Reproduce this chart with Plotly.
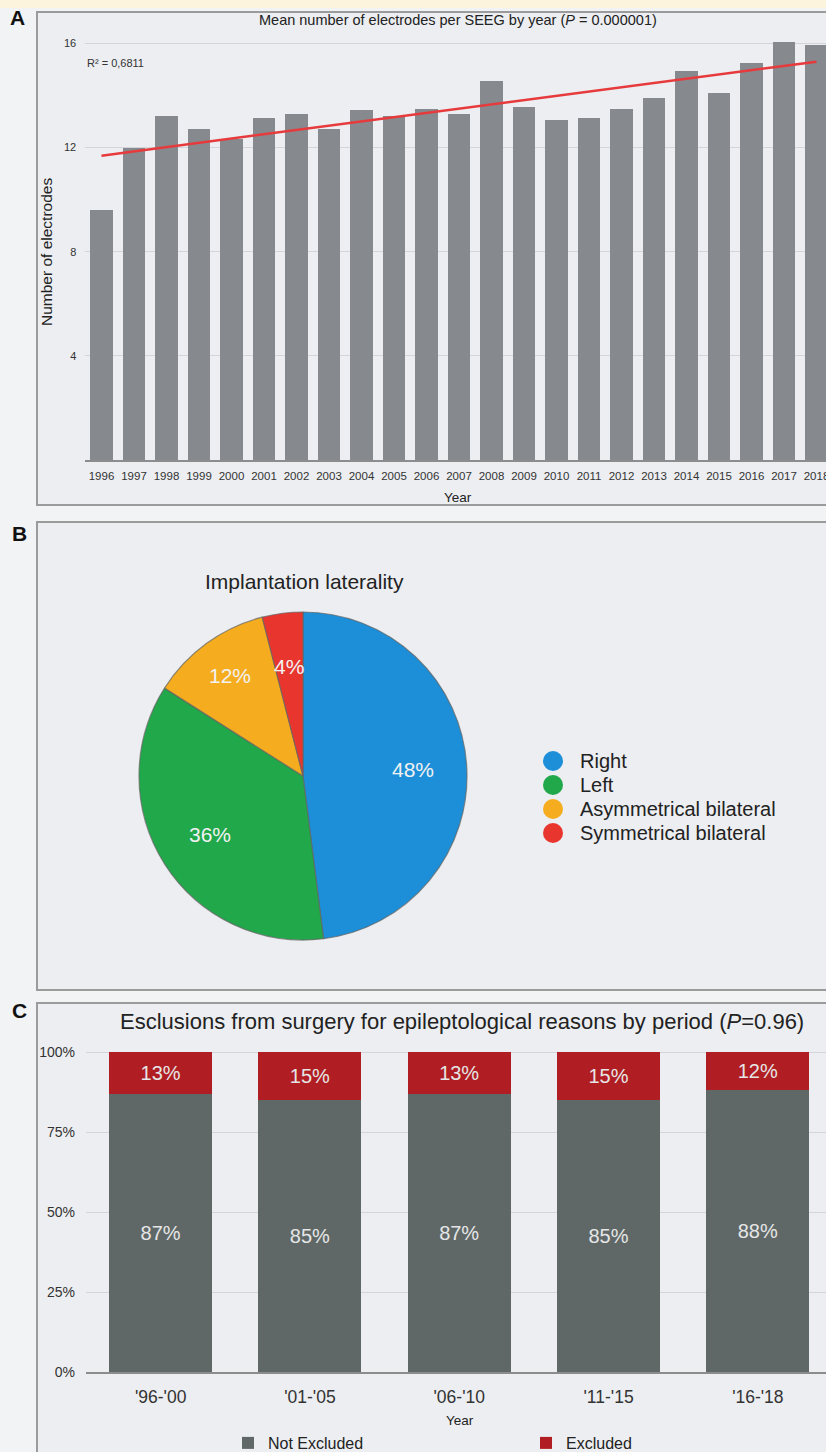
import numpy as np
import plotly.graph_objects as go

W, H = 826, 1452
def X(px): return px / W
def Y(py): return 1 - py / H

# ---------------- data ----------------
years = [str(y) for y in range(1996, 2019)]
electrodes = [9.6, 12.0, 13.2, 12.7, 12.35, 13.15, 13.3, 12.7, 13.45, 13.2, 13.5, 13.3,
              14.55, 13.55, 13.05, 13.15, 13.5, 13.9, 14.95, 14.1, 15.25, 16.05, 15.95]
r2_text = "R² = 0,6811"

lat_labels = ["Right", "Left", "Asymmetrical bilateral", "Symmetrical bilateral"]
lat_values = [48, 36, 12, 4]
lat_colors = ["#1c8fd8", "#20a84a", "#f5ad1f", "#e8362f"]

periods = ["'96-'00", "'01-'05", "'06-'10", "'11-'15", "'16-'18"]
not_excluded = [87, 85, 87, 85, 88]
excluded = [13, 15, 13, 15, 12]

FONT = "Liberation Sans, Arial, Helvetica, sans-serif"

fig = go.Figure()

# ---------------- Panel A ----------------
fig.add_trace(go.Bar(x=years, y=electrodes, marker_color="#86898d", showlegend=False,
                     xaxis="x", yaxis="y", hoverinfo="x+y"))
idx = np.arange(len(years))
slope, intercept = np.polyfit(idx, electrodes, 1)
trend = slope * idx + intercept
fig.add_trace(go.Scatter(x=years, y=trend, mode="lines", line=dict(color="#e63a3c", width=2.5),
                         showlegend=False, xaxis="x", yaxis="y"))

# ---------------- Panel B ----------------
PIE_CX, PIE_CY, PIE_R = 303, 776, 164
fig.add_trace(go.Pie(labels=lat_labels, values=lat_values, sort=False, direction="clockwise",
                     rotation=0, marker=dict(colors=lat_colors, line=dict(color="rgba(100,100,100,0.7)", width=1.2)),
                     textinfo="none",
                     domain=dict(x=[X(PIE_CX - PIE_R), X(PIE_CX + PIE_R)],
                                 y=[Y(PIE_CY + PIE_R), Y(PIE_CY - PIE_R)]),
                     showlegend=False, hoverinfo="label+percent"))

def ann(text, px, py, size, color="#222", xanchor="center", **kw):
    return dict(text=text, x=X(px), y=Y(py), xref="paper", yref="paper", showarrow=False,
                xanchor=xanchor, yanchor="middle", font=dict(size=size, color=color, family=FONT), **kw)

# slice percentage labels placed along each slice bisector
label_radius = [0.67, 0.67, 0.76, 0.67]
pie_text_ann = []
total = sum(lat_values)
cum = 0
for v, rf in zip(lat_values, label_radius):
    mid = (cum + v / 2) / total * 2 * np.pi
    cum += v
    px = PIE_CX + rf * PIE_R * np.sin(mid)
    py = PIE_CY - rf * PIE_R * np.cos(mid)
    pie_text_ann.append(ann(f"{v}%", px, py, 21, color="#f2f2f2"))

# legend for the pie (circle swatches)
LEG_X, LEG_TX, LEG_Y0, LEG_DY, LEG_R = 553, 578, 761, 24, 10
legend_shapes, legend_ann = [], []
for i, (lab, col) in enumerate(zip(lat_labels, lat_colors)):
    cy = LEG_Y0 + i * LEG_DY
    legend_shapes.append(dict(type="circle", xref="paper", yref="paper",
                              x0=X(LEG_X - LEG_R), x1=X(LEG_X + LEG_R), y0=Y(cy + LEG_R), y1=Y(cy - LEG_R),
                              fillcolor=col, line=dict(width=0)))
    legend_ann.append(ann(lab, LEG_TX, cy, 20, xanchor="left"))

# ---------------- Panel C ----------------
fig.add_trace(go.Bar(x=periods, y=not_excluded, name="Not Excluded", marker_color="#5f6867",
                     text=[f"{v}%" for v in not_excluded], textposition="inside", insidetextanchor="middle",
                     textangle=0, textfont=dict(color="#e6e6e6", size=20, family=FONT),
                     xaxis="x2", yaxis="y2", legend="legend2"))
fig.add_trace(go.Bar(x=periods, y=excluded, name="Excluded", marker_color="#b01e23",
                     text=[f"{v}%" for v in excluded], textposition="inside", insidetextanchor="middle",
                     textangle=0, textfont=dict(color="#e6e6e6", size=20, family=FONT),
                     xaxis="x2", yaxis="y2", legend="legend2"))

# ---------------- frames ----------------
shapes = [
    dict(type="rect", xref="paper", yref="paper", x0=0, x1=1, y0=Y(8), y1=1,
         fillcolor="#fdf4de", line=dict(width=0), layer="below"),
]
for (top, bot) in [(12, 505), (522, 990), (1003, 1456)]:
    shapes.append(dict(type="rect", xref="paper", yref="paper", x0=X(37), x1=X(829), y0=Y(bot), y1=Y(top),
                       fillcolor="#eceef1", line=dict(color="#9b9b9b", width=2), layer="below"))
shapes += legend_shapes

annotations = [
    ann("<b>A</b>", 17, 18, 21, color="#111"),
    ann("<b>B</b>", 19, 533, 21, color="#111"),
    ann("<b>C</b>", 19, 1011, 21, color="#111"),
    ann("Mean number of electrodes per SEEG by year (<i>P</i> = 0.000001)", 458, 20, 14.5),
    ann(r2_text, 85, 63, 11, color="#333", xanchor="left"),
    ann("Number of electrodes", 47, 252, 15.5, textangle=-90),
    ann("Year", 458, 497, 13.5),
    ann("Implantation laterality", 304, 581, 21),
    ann("Esclusions from surgery for epileptological reasons by period (<i>P</i>=0.96)", 462, 1022, 22),
    ann("Year", 460, 1420, 13.5),
] + pie_text_ann + legend_ann

fig.update_layout(
    template="none",
    width=W, height=H, margin=dict(l=0, r=0, t=0, b=0, pad=0, autoexpand=False),
    paper_bgcolor="#f2f3f5", plot_bgcolor="rgba(0,0,0,0)",
    font=dict(family=FONT, color="#222"),
    barmode="stack", bargap=0.31,
    shapes=shapes, annotations=annotations,
    xaxis=dict(domain=[X(85.25), 1], range=[-0.5, -0.5 + (W - 85.25) / 32.5], type="category",
               showgrid=False, showline=True, linecolor="#8c8c8c", linewidth=1.5, zeroline=False,
               tickfont=dict(size=11.5, color="#333"), ticks="", ticklabelstandoff=4,
               anchor="y", automargin=False),
    yaxis=dict(domain=[Y(460), Y(460 - 16.1 * 26.03)], range=[0, 16.1], tickvals=[4, 8, 12, 16],
               showgrid=True, gridcolor="#d3d5d8", gridwidth=1, zeroline=False, showline=False, ticks="",
               tickfont=dict(size=11, color="#333"), ticklabelstandoff=8, anchor="x", automargin=False),
    xaxis2=dict(domain=[X(86), 1], range=[-0.5, -0.5 + (W - 86) / 149.3], type="category",
                showgrid=False, showline=True, linecolor="#8c8c8c", linewidth=1.5, zeroline=False,
                tickfont=dict(size=17.5, color="#333"), ticks="", ticklabelstandoff=8,
                anchor="y2", automargin=False),
    yaxis2=dict(domain=[Y(1372), Y(1372 - 100.5 * 3.2)], range=[0, 100.5], tickvals=[0, 25, 50, 75, 100],
                ticktext=["0%", "25%", "50%", "75%", "100%"], ticks="",
                showgrid=True, gridcolor="#d3d5d8", gridwidth=1, zeroline=False, showline=False,
                tickfont=dict(size=14, color="#333"), ticklabelstandoff=10, anchor="x2", automargin=False),
    legend2=dict(x=X(228), y=Y(1443), xanchor="left", yanchor="middle", bgcolor="rgba(0,0,0,0)",
                 orientation="h", font=dict(size=16, color="#222", family=FONT),
                 entrywidth=253, entrywidthmode="pixels", traceorder="normal"),
)

fig.write_html("out.html")
